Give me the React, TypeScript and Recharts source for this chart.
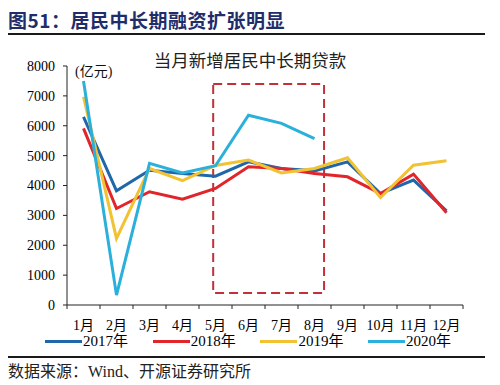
import React from 'react';
import { LineChart, Line, XAxis, YAxis, ReferenceArea } from 'recharts';

// months on the x axis, values in 亿元
const months = ['1月', '2月', '3月', '4月', '5月', '6月', '7月', '8月', '9月', '10月', '11月', '12月'];
const years = ['2017年', '2018年', '2019年', '2020年'];
const s2017 = [6300, 3820, 4510, 4400, 4310, 4790, 4570, 4490, 4790, 3730, 4180, 3150];
const s2018 = [5910, 3230, 3790, 3545, 3900, 4630, 4570, 4400, 4290, 3730, 4380, 3090];
const s2019 = [6970, 2230, 4570, 4160, 4670, 4850, 4420, 4570, 4930, 3600, 4680, 4830];
const s2020 = [7500, 330, 4740, 4420, 4660, 6350, 6080, 5570, null, null, null, null];
const yTicks = [0, 1000, 2000, 3000, 4000, 5000, 6000, 7000, 8000];

// dashed box around 5月–8月
const boxX = [4.93, 8.29];
const boxY = [400, 7400];

const colors = ['#1F67AA', '#E1252B', '#F1C232', '#2BB0DB'];
const seriesKeys = ['y2017', 'y2018', 'y2019', 'y2020'];

const data = months.map((label, i) => ({
  m: i + 1,
  label,
  y2017: s2017[i],
  y2018: s2018[i],
  y2019: s2019[i],
  y2020: s2020[i],
}));

const tickPos = months.map((_, i) => i + 0.5).concat(months.length + 0.5);

const SERIF = "'Liberation Serif', 'Noto Sans CJK SC', serif";
const CJK = "'Noto Sans CJK SC', sans-serif";
const HALF_BAND = 16.5;

const MonthTick = (props: any) => {
  const { x, y, index } = props;
  if (index >= months.length) return <g />;
  return (
    <text x={x + HALF_BAND} y={y} dy={19} textAnchor="middle" fontSize={14} fontFamily={SERIF} fill="#000">
      {months[index]}
    </text>
  );
};

export default function App() {
  return (
    <div style={{ position: 'fixed', top: 0, left: 0, width: 500, height: 385, background: '#fff', overflow: 'hidden' }}>
      <div style={{ position: 'absolute', top: 8, left: 8, fontFamily: CJK, fontWeight: 700, fontSize: 19, lineHeight: '24px', color: '#1F2D6B', letterSpacing: 0.5, whiteSpace: 'nowrap' }}>
        图51：居民中长期融资扩张明显
      </div>
      <div style={{ position: 'absolute', top: 33, left: 8, width: 477, height: 2, background: '#1a1a1a' }} />

      <div style={{ position: 'absolute', top: 50, left: 0, width: 500, textAlign: 'center', fontFamily: CJK, fontSize: 17.5, lineHeight: '20px', color: '#222' }}>
        当月新增居民中长期贷款
      </div>
      <div style={{ position: 'absolute', top: 63, left: 75, fontFamily: SERIF, fontSize: 14, lineHeight: '18px', color: '#111' }}>
        (亿元)
      </div>

      <LineChart
        width={500}
        height={345}
        data={data}
        margin={{ top: 66, right: 37, bottom: 15, left: 0 }}
        style={{ position: 'absolute', top: 0, left: 0 }}
      >
        <ReferenceArea
          x1={boxX[0]}
          x2={boxX[1]}
          y1={boxY[0]}
          y2={boxY[1]}
          fill="none"
          fillOpacity={0}
          stroke="#C0313A"
          strokeWidth={2}
          strokeDasharray="9 5"
        />
        <XAxis
          type="number"
          dataKey="m"
          domain={[0.5, 12.5]}
          ticks={tickPos}
          interval={0}
          height={25}
          tickSize={4}
          tick={<MonthTick />}
          axisLine={{ stroke: '#222' }}
          tickLine={{ stroke: '#222' }}
        />
        <YAxis
          domain={[0, 8000]}
          ticks={yTicks}
          interval={0}
          width={67}
          tickSize={4}
          tickMargin={8}
          tick={{ fontSize: 14, fontFamily: SERIF, fill: '#000' }}
          axisLine={{ stroke: '#222' }}
          tickLine={{ stroke: '#222' }}
        />
        {seriesKeys.map((k, i) => (
          <Line
            key={k}
            type="linear"
            dataKey={k}
            stroke={colors[i]}
            strokeWidth={3}
            dot={false}
            isAnimationActive={false}
          />
        ))}
      </LineChart>

      <div style={{ position: 'absolute', top: 333, left: 45, display: 'flex' }}>
        {years.map((y, i) => (
          <div key={y} style={{ width: 107.7, height: 16, display: 'flex', alignItems: 'center' }}>
            <span style={{ display: 'inline-block', width: 37, height: 3, background: colors[i] }} />
            <span style={{ marginLeft: 1, fontFamily: SERIF, fontSize: 15, lineHeight: '16px', color: '#000' }}>{y}</span>
          </div>
        ))}
      </div>

      <div style={{ position: 'absolute', top: 356, left: 8, width: 477, height: 2, background: '#1a1a1a' }} />
      <div style={{ position: 'absolute', top: 363, left: 8, fontFamily: SERIF, fontSize: 16, lineHeight: '18px', color: '#222', whiteSpace: 'nowrap' }}>
        数据来源：Wind、开源证券研究所
      </div>
    </div>
  );
}
